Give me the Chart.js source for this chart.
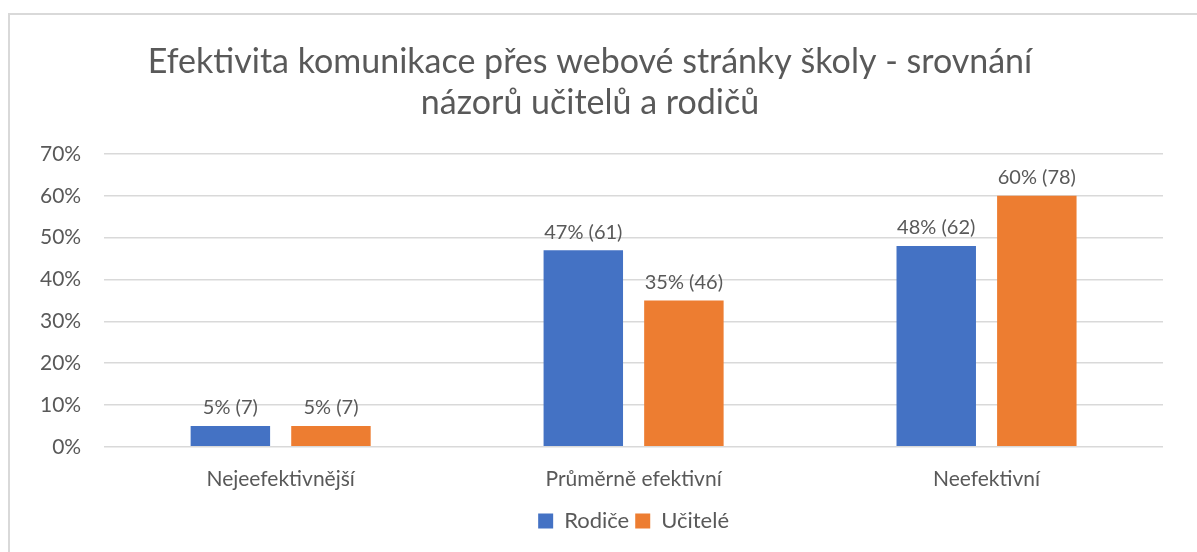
<!DOCTYPE html>
<html>
<head>
<meta charset="utf-8">
<script src="https://cdn.jsdelivr.net/npm/chart.js@4/dist/chart.umd.min.js"></script>
<style>
  body { margin: 0; background: #fff; }
  #frame {
    position: absolute; left: 8px; top: 13px; width: 1189px; height: 539px;
    border-left: 2px solid #d9d9d9; border-top: 2px solid #d9d9d9;
  }
  #wrap { position: absolute; left: 10px; top: 15px; width: 1187px; height: 537px; }
</style>
</head>
<body>
<div id="frame"></div>
<div id="wrap"><canvas id="myChart"></canvas></div>
<script>
// data
var categories = ['Nejeefektivnější', 'Průměrně efektivní', 'Neefektivní'];
var rodicePct = [5, 47, 48];
var rodiceCount = [7, 61, 62];
var ucitelePct = [5, 35, 60];
var uciteleCount = [7, 46, 78];
var yTicks = [0, 10, 20, 30, 40, 50, 60, 70];

var fontName = 'Lato, "Open Sans", sans-serif';
var textColor = '#595959';

// popisky nad sloupci
var barLabels = {
    id: 'barLabels',
    afterDatasetsDraw: function (chart) {
        var ctx = chart.ctx;
        ctx.save();
        ctx.font = '20px ' + fontName;
        ctx.fillStyle = textColor;
        ctx.textAlign = 'center';
        ctx.textBaseline = 'bottom';
        chart.data.datasets.forEach(function (ds, i) {
            var meta = chart.getDatasetMeta(i);
            meta.data.forEach(function (bar, j) {
                var txt = ds.data[j] + '% (' + ds.counts[j] + ')';
                ctx.fillText(txt, bar.x, bar.y - 8);
            });
        });
        ctx.restore();
    }
};

// legenda vycentrovana pod grafem (ne pod celym platnem)
var legendShift = {
    id: 'legendShift',
    afterLayout: function (chart) {
        var lg = chart.legend;
        var d = (chart.chartArea.left + chart.chartArea.right) / 2 - (lg.left + lg.right) / 2;
        lg.left += d;
        lg.right += d;
    }
};

var ctx = document.getElementById('myChart').getContext('2d');
var myChart = new Chart(ctx, {
    type: 'bar',
    data: {
        labels: categories,
        datasets: [{
            label: 'Rodiče',
            data: rodicePct,
            counts: rodiceCount,
            backgroundColor: '#4472C4',
            categoryPercentage: 0.57,
            barPercentage: 0.79
        }, {
            label: 'Učitelé',
            data: ucitelePct,
            counts: uciteleCount,
            backgroundColor: '#ED7D31',
            categoryPercentage: 0.57,
            barPercentage: 0.79
        }]
    },
    options: {
        responsive: true,
        maintainAspectRatio: false,
        animation: false,
        layout: { padding: { left: 7, right: 34, top: 26, bottom: 10 } },
        plugins: {
            title: {
                display: true,
                text: ['Efektivita komunikace přes webové stránky školy - srovnání', 'názorů učitelů a rodičů'],
                color: textColor,
                font: { family: fontName, size: 34, weight: 'normal', lineHeight: 1.22 },
                padding: { top: 0, bottom: 30 }
            },
            legend: {
                position: 'bottom',
                labels: {
                    color: textColor,
                    font: { family: fontName, size: 22 },
                    boxWidth: 15,
                    boxHeight: 15,
                    padding: 6
                }
            },
            tooltip: { enabled: false }
        },
        scales: {
            x: {
                grid: { display: false },
                border: { display: false },
                ticks: { color: textColor, font: { family: fontName, size: 21 }, padding: 12 }
            },
            y: {
                min: 0,
                max: 70,
                afterBuildTicks: function (axis) {
                    axis.ticks = yTicks.map(function (v) { return { value: v }; });
                },
                grid: { color: '#d9d9d9', lineWidth: 1.5, drawTicks: false },
                border: { display: false },
                ticks: {
                    color: textColor,
                    font: { family: fontName, size: 21 },
                    padding: 23,
                    callback: function (v) { return v + '%'; }
                }
            }
        }
    },
    plugins: [barLabels, legendShift]
});
</script>
</body>
</html>
